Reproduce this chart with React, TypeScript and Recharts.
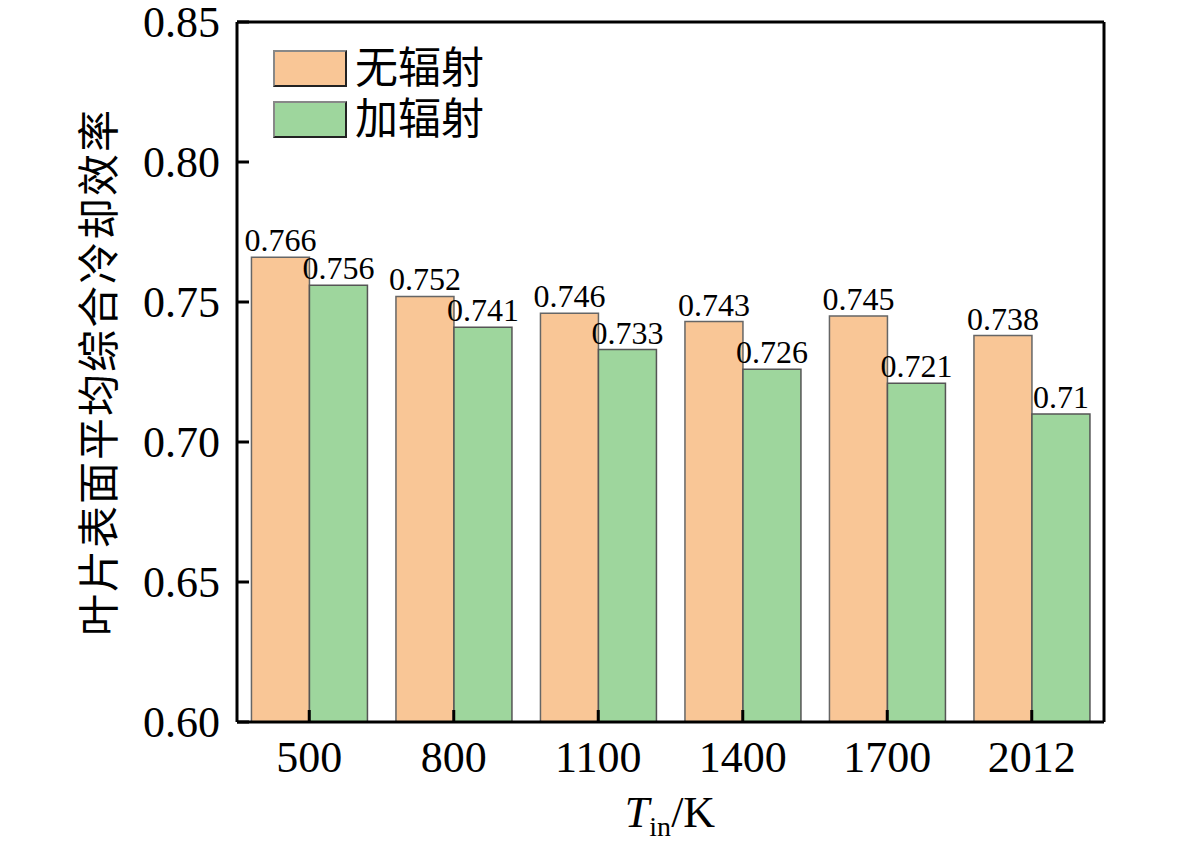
import React from 'react';
import { BarChart, Bar, XAxis, YAxis, LabelList, Legend } from 'recharts';

const categories = ['500', '800', '1100', '1400', '1700', '2012'];
const noRadiation = [0.766, 0.752, 0.746, 0.743, 0.745, 0.738];
const withRadiation = [0.756, 0.741, 0.733, 0.726, 0.721, 0.71];
const yTicks = [0.6, 0.65, 0.7, 0.75, 0.8, 0.85];
const seriesNames = ['无辐射', '加辐射'];

const ORANGE = '#F9C696';
const GREEN = '#9ED69D';
const FONT = "'Liberation Serif', 'Times New Roman', 'Noto Sans CJK SC', serif";
const CJK = "'Liberation Serif', 'Noto Sans CJK SC', serif";

const data = categories.map((c, i) => ({ cat: c, a: noRadiation[i], b: withRadiation[i] }));

const YTick = (props: any) => {
  const { x, y, payload } = props;
  return (
    <g>
      <line x1={x} x2={x + 12} y1={y} y2={y} stroke="#000" strokeWidth={3} />
      <text x={x - 17} y={y} dy={15} textAnchor="end" fontSize={44} fontFamily={FONT} fill="#000">
        {Number(payload.value).toFixed(2)}
      </text>
    </g>
  );
};

const XTick = (props: any) => {
  const { x, y, payload } = props;
  return (
    <g>
      <line x1={x} x2={x} y1={y} y2={y - 12} stroke="#000" strokeWidth={3} />
      <text x={x} y={y + 50} textAnchor="middle" fontSize={44} fontFamily={FONT} fill="#000">
        {payload.value}
      </text>
    </g>
  );
};

const LegendContent = () => {
  const colors = [ORANGE, GREEN];
  return (
    <div style={{ display: 'flex', flexDirection: 'column', gap: 14 }}>
      {seriesNames.map((n, i) => (
        <div key={n} style={{ display: 'flex', alignItems: 'center', height: 37 }}>
          <div
            style={{
              width: 70,
              height: 33,
              background: colors[i],
              borderTop: '2px solid #888',
              borderLeft: '2px solid #888',
              borderRight: '2px solid #222',
              borderBottom: '2px solid #222',
            }}
          />
          <span style={{ marginLeft: 8, fontSize: 43, fontFamily: CJK, color: '#000', lineHeight: '37px' }}>{n}</span>
        </div>
      ))}
    </div>
  );
};

export default function App() {
  return (
    <div style={{ position: 'absolute', left: 0, top: 0, width: 1181, height: 849, background: '#fff' }}>
      <BarChart
        width={1181}
        height={849}
        data={data}
        margin={{ top: 21, right: 76, bottom: 126, left: 0 }}
        barCategoryGap="10%"
        barGap={0}
      >
        <XAxis
          dataKey="cat"
          xAxisId={0}
          height={1}
          tickSize={0}
          tickMargin={0}
          tickLine={false}
          axisLine={{ stroke: '#000', strokeWidth: 3 }}
          tick={<XTick />}
          interval={0}
          label={{
            content: () => (
              <text x={670} y={827} textAnchor="middle" fontFamily={FONT} fontSize={44} fill="#000">
                <tspan fontStyle="italic">T</tspan>
                <tspan fontSize={28} dy={9}>in</tspan>
                <tspan dy={-9}>/K</tspan>
              </text>
            ),
          }}
        />
        <XAxis
          dataKey="cat"
          xAxisId="top"
          orientation="top"
          height={1}
          tick={false}
          tickLine={false}
          axisLine={{ stroke: '#000', strokeWidth: 3 }}
        />
        <YAxis
          yAxisId={0}
          width={237}
          domain={[0.6, 0.85]}
          ticks={yTicks}
          allowDataOverflow
          tickSize={0}
          tickMargin={0}
          tickLine={false}
          axisLine={{ stroke: '#000', strokeWidth: 3 }}
          tick={<YTick />}
          label={{
            content: () => (
              <text
                x={100}
                y={372}
                transform="rotate(-90 100 372)"
                textAnchor="middle"
                dominantBaseline="central"
                fontFamily={CJK}
                fontSize={42}
                letterSpacing={2}
                fill="#000"
              >
                叶片表面平均综合冷却效率
              </text>
            ),
          }}
        />
        <YAxis
          yAxisId="r"
          orientation="right"
          width={1}
          domain={[0.6, 0.85]}
          tick={false}
          tickLine={false}
          axisLine={{ stroke: '#000', strokeWidth: 3 }}
        />
        <Legend
          layout="vertical"
          align="center"
          verticalAlign="middle"
          content={<LegendContent />}
          wrapperStyle={{ position: 'absolute', left: 273, top: 50, width: 'auto', height: 'auto' }}
        />
        <Bar dataKey="a" name={seriesNames[0]} fill={ORANGE} stroke="#666" strokeWidth={1.5} isAnimationActive={false}>
          <LabelList dataKey="a" position="top" offset={6} fontSize={32} fontFamily={FONT} fill="#000" />
        </Bar>
        <Bar dataKey="b" name={seriesNames[1]} fill={GREEN} stroke="#555" strokeWidth={1.5} isAnimationActive={false}>
          <LabelList dataKey="b" position="top" offset={6} fontSize={32} fontFamily={FONT} fill="#000" />
        </Bar>
      </BarChart>
    </div>
  );
}
